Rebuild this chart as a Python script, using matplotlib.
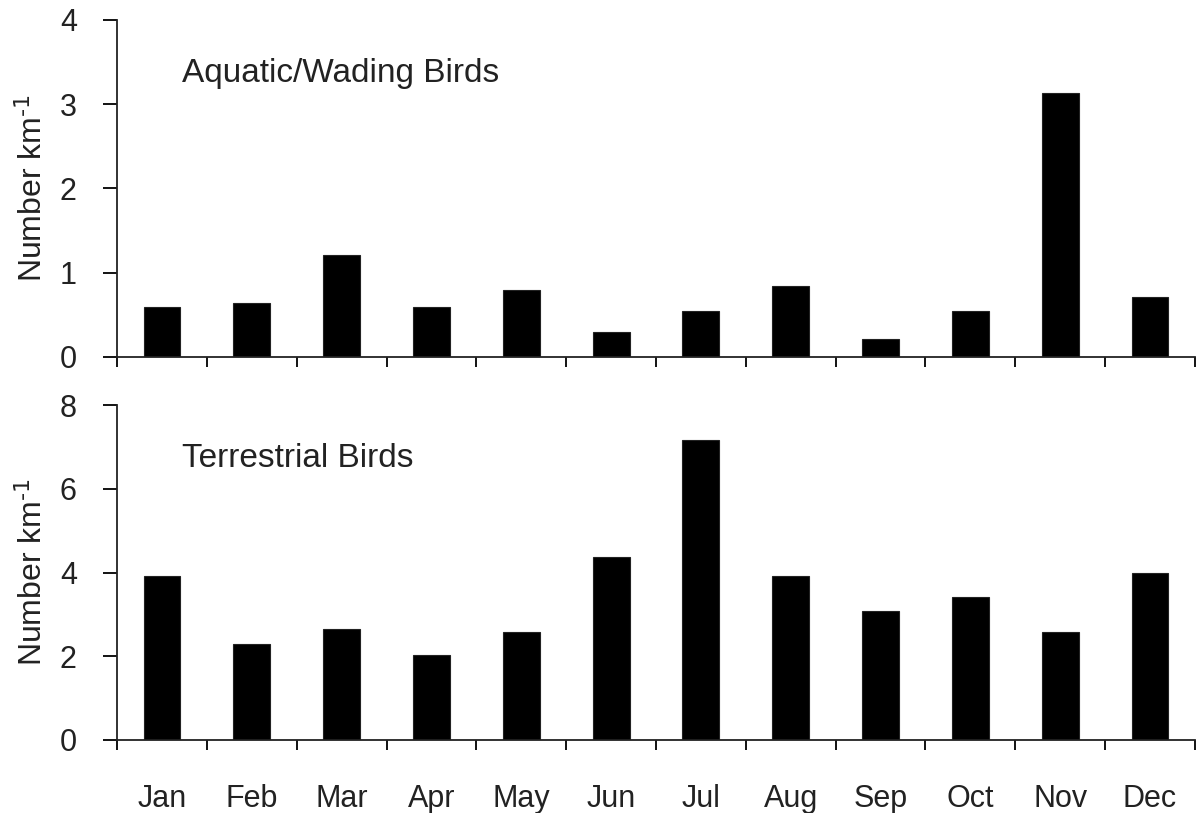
import numpy as np
import matplotlib
matplotlib.use("Agg")
import matplotlib.pyplot as plt

plt.rcParams['font.family'] = ['Liberation Sans', 'DejaVu Sans']
plt.rcParams['mathtext.default'] = 'regular'

months = ["Jan", "Feb", "Mar", "Apr", "May", "Jun", "Jul", "Aug", "Sep", "Oct", "Nov", "Dec"]
aquatic = [0.59, 0.64, 1.21, 0.59, 0.80, 0.30, 0.55, 0.84, 0.21, 0.55, 3.13, 0.71]
terrestrial = [3.91, 2.29, 2.65, 2.03, 2.58, 4.37, 7.16, 3.91, 3.08, 3.41, 2.58, 3.99]

fig = plt.figure(figsize=(12.04, 8.13), dpi=100)
ax1 = fig.add_axes([0.0972, 0.5609, 0.8953, 0.4145])
ax2 = fig.add_axes([0.0972, 0.0898, 0.8953, 0.4120])

x = np.arange(len(months))

def style(ax, data, ymax, step, label):
    ax.bar(x, data, width=0.41, color='black', edgecolor='#222222', linewidth=0.8)
    ax.set_xlim(-0.5, len(months) - 0.5)
    ax.set_ylim(0, ymax)
    ax.set_yticks(np.arange(0, ymax + 0.1, step))
    ax.set_xticks(np.arange(-0.5, len(months)), minor=False)
    ax.set_xticklabels([])
    ax.spines['top'].set_visible(False)
    ax.spines['right'].set_visible(False)
    for s in ['left', 'bottom']:
        ax.spines[s].set_linewidth(1.3)
        ax.spines[s].set_color('#222222')
    ax.tick_params(axis='y', direction='out', length=10, width=1.3, labelsize=22, pad=19,
                   labelcolor='#222222')
    ax.tick_params(axis='x', direction='out', length=7, width=1.3)
    ax.set_ylabel("Number km$^{\\text{-1}}$", fontsize=23, labelpad=8, color='#222222')
    ax.text(0.06, 0.84, label, transform=ax.transAxes, fontsize=24, ha='left', va='center',
            color='#222222')

style(ax1, aquatic, 4, 1, "Aquatic/Wading Birds")
style(ax2, terrestrial, 8, 2, "Terrestrial Birds")

ax2.set_xticks(x, minor=True)
ax2.set_xticklabels(months, minor=True)
ax2.tick_params(axis='x', which='minor', length=0, labelsize=22, pad=32, labelcolor='#222222')

fig.savefig("out.png", dpi=100)
